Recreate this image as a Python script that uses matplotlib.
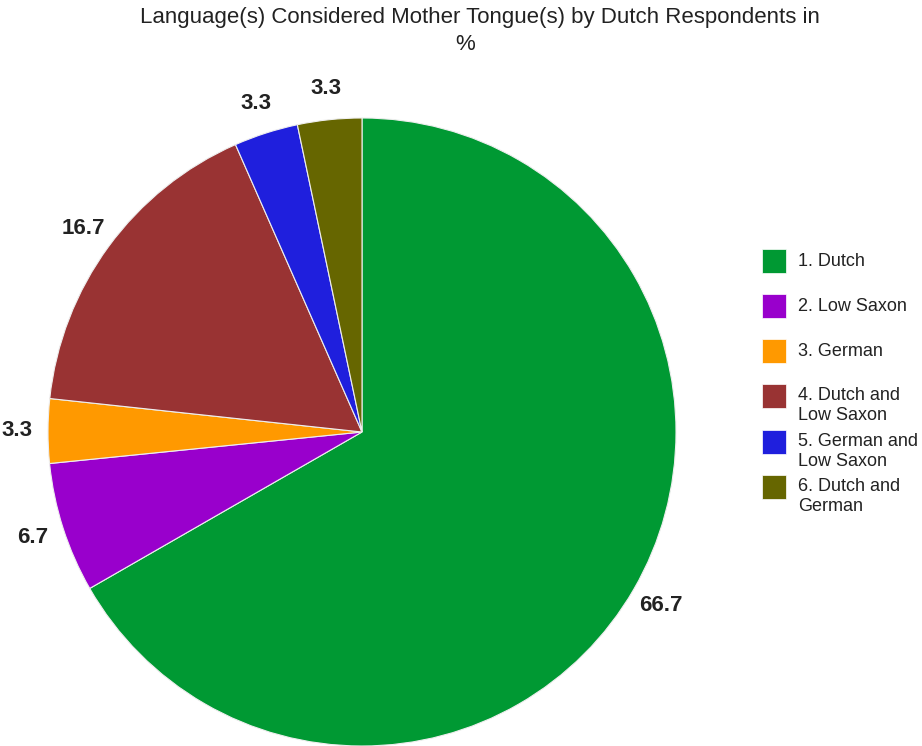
import matplotlib
matplotlib.use('Agg')
import matplotlib.pyplot as plt
from matplotlib.patches import Rectangle

plt.rcParams['font.family'] = ['Liberation Sans', 'DejaVu Sans']

labels = ['1. Dutch', '2. Low Saxon', '3. German', '4. Dutch and\nLow Saxon',
          '5. German and\nLow Saxon', '6. Dutch and\nGerman']
values = [66.7, 6.7, 3.3, 16.7, 3.3, 3.3]
colors = ['#009933', '#9900cc', '#ff9900', '#993333', '#1f1fdd', '#666600']

W, H = 922, 746
fig = plt.figure(figsize=(W / 100, H / 100), dpi=100)

# pie centre (362, 432), radius 314 px
cx, cy, r = 362, 432, 314
ax = fig.add_axes([(cx - r) / W, (H - cy - r) / H, 2 * r / W, 2 * r / H])
wedges, texts = ax.pie(values, colors=colors, startangle=90, counterclock=False,
                       labels=['%.1f' % v for v in values], labeldistance=1.1,
                       radius=1, wedgeprops=dict(edgecolor='#eeeeee', linewidth=0.8),
                       textprops=dict(fontsize=16, fontweight='bold', color='#222222'))
for t in texts:
    t.set_ha('center')
    t.set_va('center')
ax.set_xlim(-1, 1)
ax.set_ylim(-1, 1)
ax.set_aspect('equal')
ax.axis('off')

fig.text(480 / W, 1 - 18 / H,
         'Language(s) Considered Mother Tongue(s) by Dutch Respondents in',
         ha='center', va='center', fontsize=16, color='#222222')
fig.text(465 / W, 1 - 45 / H, '%', ha='center', va='center', fontsize=16,
         color='#222222')

# legend
tops = [249, 294, 339, 384, 430, 475]
for top, lab, col in zip(tops, labels, colors):
    fig.patches.append(Rectangle((762 / W, 1 - (top + 24) / H), 24 / W, 24 / H,
                                 transform=fig.transFigure, facecolor=col,
                                 edgecolor='white', linewidth=0.5))
    if '\n' in lab:
        fig.text(798 / W, 1 - (top + 3) / H, lab, ha='left', va='top',
                 fontsize=13, color='#222222', linespacing=1.2)
    else:
        fig.text(798 / W, 1 - (top + 12) / H, lab, ha='left', va='center',
                 fontsize=13, color='#222222')

fig.savefig('out.png', dpi=100, facecolor='white')
